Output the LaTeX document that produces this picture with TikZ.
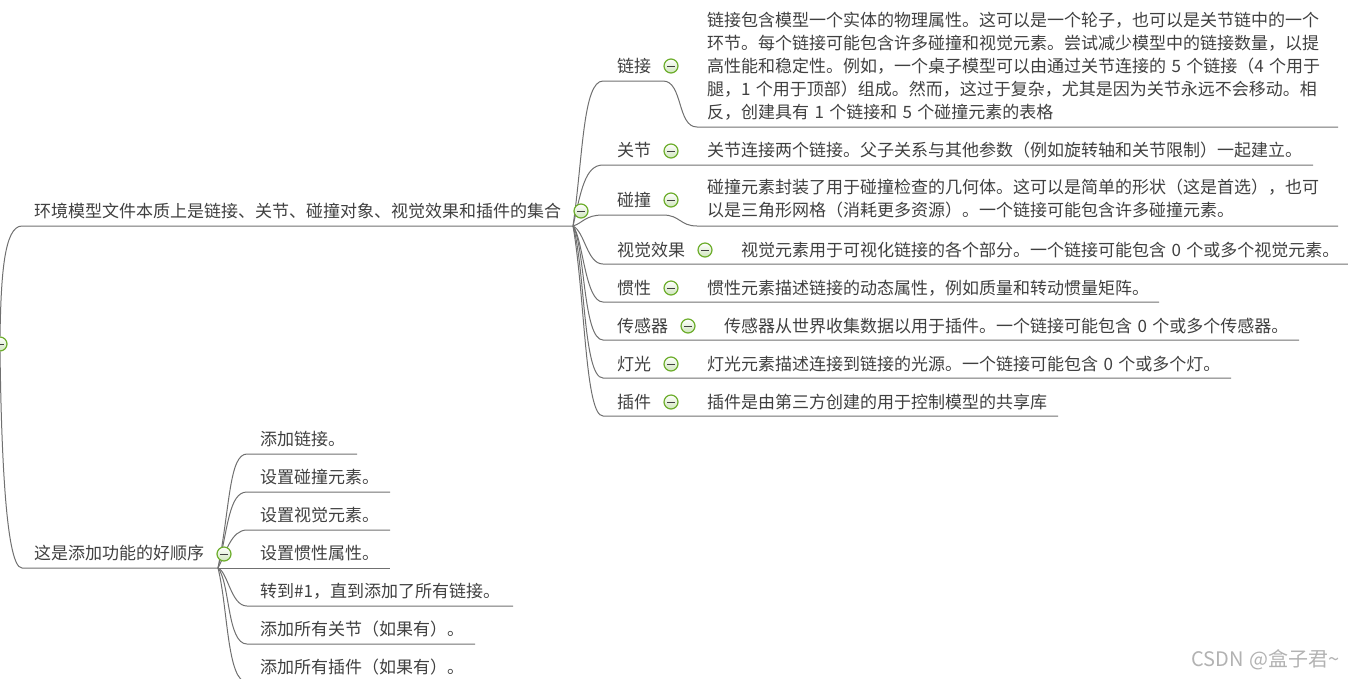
\documentclass[tikz,border=0pt]{standalone}
\usepackage{fontspec}
\setmainfont[WordSpace=1.4]{Noto Sans CJK SC}
\definecolor{inktext}{HTML}{404040}
\definecolor{inkline}{HTML}{707070}
\definecolor{foldgreen}{HTML}{6CAD2B}
\definecolor{foldfill}{HTML}{CFE5BC}
\tikzset{
    topic/.style={anchor=west, inner sep=0pt, text=inktext, font=\fontsize{17}{23}\selectfont, align=left},
    branch/.style={draw=inkline, line width=1pt},
    foldsign/.style={circle, draw=foldgreen, line width=1.2pt, top color=white, bottom color=foldfill, minimum size=14pt, inner sep=0pt,
        path picture={\draw[inktext, line width=1pt] ([xshift=-4pt]path picture bounding box.center) -- ([xshift=4pt]path picture bounding box.center);}},
    watermark/.style={anchor=west, inner sep=0pt, text=black!30, font=\fontsize{20}{24}\selectfont}
}
\begin{document}
\begin{tikzpicture}[x=1pt, y=-1pt]
\useasboundingbox (0,0) rectangle (1348,678);

\node [foldsign] (rootfold) at (0,344) {};

% first group
\node [topic] (envtext) at (34,211) {环境模型文件本质上是链接、关节、碰撞对象、视觉效果和插件的集合};
\coordinate (envA) at (22,226);
\coordinate (envB) at (573,226);
\draw [branch] (rootfold.north) .. controls +(1,-60) and +(-18,0) .. (envA) -- (envB);

\node [topic] (linktext) at (617,66) {链接};
\node [foldsign] (linkfold) at (671,66) {};
\node [topic] (linkinfo) at (707,66) {链接包含模型一个实体的物理属性。这可以是一个轮子，也可以是关节链中的一个\\环节。每个链接可能包含许多碰撞和视觉元素。尝试减少模型中的链接数量，以提\\高性能和稳定性。例如，一个桌子模型可以由通过关节连接的 5 个链接（4 个用于\\腿，1 个用于顶部）组成。然而，这过于复杂，尤其是因为关节永远不会移动。相\\反，创建具有 1 个链接和 5 个碰撞元素的表格};
\coordinate (linkA) at (603,81);
\coordinate (linkB) at (663,81);
\coordinate (linkC) at (697,127);
\coordinate (linkD) at (1338,127);
\draw [branch] (envB) .. controls +(10,-70) and +(-20,0) .. (linkA) -- (linkB) .. controls +(20,0) and +(-20,0) .. (linkC) -- (linkD);

\node [topic] (jointtext) at (617,150) {关节};
\node [foldsign] (jointfold) at (671,151) {};
\node [topic] (jointinfo) at (707,150) {关节连接两个链接。父子关系与其他参数（例如旋转轴和关节限制）一起建立。};
\coordinate (jointA) at (603,165);
\coordinate (jointB) at (1313,165);
\draw [branch] (envB) .. controls +(8,-35) and +(-18,0) .. (jointA) -- (jointB);

\node [topic] (colltext) at (617,200) {碰撞};
\node [foldsign] (collfold) at (671,200) {};
\node [topic] (collinfo) at (707,199) {碰撞元素封装了用于碰撞检查的几何体。这可以是简单的形状（这是首选），也可\\以是三角形网格（消耗更多资源）。一个链接可能包含许多碰撞元素。};
\coordinate (collA) at (603,215);
\coordinate (collB) at (663,215);
\coordinate (collC) at (697,226);
\coordinate (collD) at (1338,226);
\draw [branch] (envB) .. controls +(10,-3) and +(-18,0) .. (collA) -- (collB) .. controls +(17,0) and +(-17,0) .. (collC) -- (collD);

\node [topic] (vistext) at (617,250) {视觉效果};
\node [foldsign] (visfold) at (705,250) {};
\node [topic] (visinfo) at (741,250) {视觉元素用于可视化链接的各个部分。一个链接可能包含 0 个或多个视觉元素。};
\coordinate (visA) at (603,264);
\coordinate (visB) at (1348,264);
\draw [branch] (envB) .. controls +(12,6) and +(-16,0) .. (visA) -- (visB);

\node [topic] (inertext) at (617,288) {惯性};
\node [foldsign] (inerfold) at (671,288) {};
\node [topic] (inerinfo) at (707,288) {惯性元素描述链接的动态属性，例如质量和转动惯量矩阵。};
\coordinate (inerA) at (603,302);
\coordinate (inerB) at (1159,302);
\draw [branch] (envB) .. controls +(10,12) and +(-18,0) .. (inerA) -- (inerB);

\node [topic] (sensetext) at (617,326) {传感器};
\node [foldsign] (sensefold) at (688,326) {};
\node [topic] (senseinfo) at (724,326) {传感器从世界收集数据以用于插件。一个链接可能包含 0 个或多个传感器。};
\coordinate (senseA) at (603,340);
\coordinate (senseB) at (1299,340);
\draw [branch] (envB) .. controls +(12,20) and +(-20,0) .. (senseA) -- (senseB);

\node [topic] (lighttext) at (617,364) {灯光};
\node [foldsign] (lightfold) at (671,364) {};
\node [topic] (lightinfo) at (707,364) {灯光元素描述连接到链接的光源。一个链接可能包含 0 个或多个灯。};
\coordinate (lightA) at (603,378);
\coordinate (lightB) at (1231,378);
\draw [branch] (envB) .. controls +(12,40) and +(-20,0) .. (lightA) -- (lightB);

\node [topic] (plugtext) at (617,402) {插件};
\node [foldsign] (plugfold) at (671,402) {};
\node [topic] (pluginfo) at (707,402) {插件是由第三方创建的用于控制模型的共享库};
\coordinate (plugA) at (603,416);
\coordinate (plugB) at (1058,416);
\draw [branch] (envB) .. controls +(12,70) and +(-18,0) .. (plugA) -- (plugB);

\node [foldsign] (envfold) at (581,211) {};

% second group
\node [topic] (ordertext) at (34,553) {这是添加功能的好顺序};
\coordinate (orderA) at (22,568);
\coordinate (orderB) at (218,568);
\draw [branch] (rootfold.south) .. controls +(1,70) and +(-18,0) .. (orderA) -- (orderB);

\node [topic] (stepa) at (260,439) {添加链接。};
\coordinate (stepaA) at (247,454);
\coordinate (stepaB) at (357,454);
\draw [branch] (orderB) .. controls +(12,-60) and +(-18,0) .. (stepaA) -- (stepaB);

\node [topic] (stepb) at (260,477) {设置碰撞元素。};
\coordinate (stepbA) at (247,492);
\coordinate (stepbB) at (390,492);
\draw [branch] (orderB) .. controls +(10,-40) and +(-18,0) .. (stepbA) -- (stepbB);

\node [topic] (stepc) at (260,515) {设置视觉元素。};
\coordinate (stepcA) at (247,530);
\coordinate (stepcB) at (390,530);
\draw [branch] (orderB) .. controls +(8,-15) and +(-16,0) .. (stepcA) -- (stepcB);

\node [topic] (stepd) at (260,553) {设置惯性属性。};
\coordinate (stepdB) at (390,568);
\draw [branch] (orderB) -- (stepdB);

\node [topic] (stepe) at (260,591) {转到\#1，直到添加了所有链接。};
\coordinate (stepeA) at (247,606);
\coordinate (stepeB) at (513,606);
\draw [branch] (orderB) .. controls +(10,4) and +(-16,0) .. (stepeA) -- (stepeB);

\node [topic] (stepf) at (260,629) {添加所有关节（如果有）。};
\coordinate (stepfA) at (247,644);
\coordinate (stepfB) at (475,644);
\draw [branch] (orderB) .. controls +(12,14) and +(-20,0) .. (stepfA) -- (stepfB);

\node [topic] (stepg) at (260,667) {添加所有插件（如果有）。};
\coordinate (stepgA) at (247,682);
\coordinate (stepgB) at (475,682);
\draw [branch] (orderB) .. controls +(10,40) and +(-20,0) .. (stepgA) -- (stepgB);

\node [foldsign] (orderfold) at (224,554) {};

\node [watermark] (wmark) at (1191,660) {CSDN @盒子君\textasciitilde};
\end{tikzpicture}
\end{document}
